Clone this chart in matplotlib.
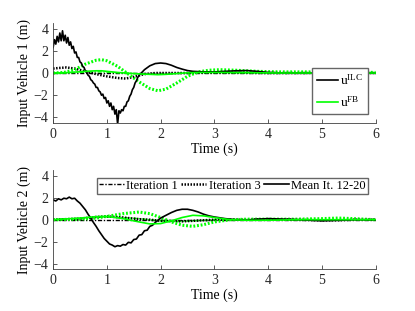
import numpy as np
import matplotlib
matplotlib.use("Agg")
import matplotlib.pyplot as plt

plt.rcParams["font.family"] = ["Liberation Serif", "DejaVu Serif"]
plt.rcParams["mathtext.fontset"] = "custom"
plt.rcParams["mathtext.rm"] = "Liberation Serif"
plt.rcParams["mathtext.it"] = "Liberation Serif:italic"
plt.rcParams["font.size"] = 10

GREEN = "#00ff00"
DOT = (0, (0.6, 0.6))
DASHDOT = (0, (3, 1.2, 1, 1.2))

# ---------------- vehicle 1 ----------------
# mean ILC input (it. 12-20), noisy first part then smooth tail
v1_ilc_mean_noisy = [2.3, 3.0, 2.6, 3.3, 2.8, 3.6, 2.9, 3.8, 2.9, 3.4, 2.7, 3.2, 2.5,
                     2.8, 2.2, 2.4, 1.8, 1.9, 1.4, 1.4, 1.0, 0.9, 0.6, 0.5, 0.2, 0.1,
                     -0.2, -0.3, -0.6, -0.7, -0.9, -1.0, -1.3, -1.3, -1.6, -1.7, -2.0,
                     -1.9, -2.3, -2.2, -2.7, -2.5, -3.0, -2.7, -3.3, -3.0, -3.7, -3.3,
                     -4.6, -3.4, -3.6, -3.3, -3.4, -3.0, -3.0, -2.6, -2.5, -2.1, -1.9,
                     -1.5, -1.3, -0.9, -0.7, -0.4, -0.2]
t_v1_tail = [1.7, 1.8, 1.9, 2.0, 2.1, 2.2, 2.3, 2.4, 2.5, 2.6, 2.8, 3.0, 3.2, 3.4,
             3.6, 3.8, 4.0, 4.3, 5.0, 6.0]
v1_ilc_mean_tail = [0.3, 0.65, 0.85, 0.9, 0.85, 0.7, 0.5, 0.35, 0.22, 0.15, 0.1, 0.1,
                    0.15, 0.2, 0.22, 0.15, 0.05, 0.0, 0.0, 0.0]

t_v1_it3 = [0, 0.1, 0.25, 0.4, 0.6, 0.8, 1.0, 1.2, 1.35, 1.5, 1.7, 1.9, 2.5, 3.0, 4.0, 6.0]
v1_ilc_it3 = [0.4, 0.45, 0.5, 0.4, 0.15, -0.1, -0.3, -0.45, -0.5, -0.35, -0.1, 0.0,
              0.0, 0.05, 0.0, 0.0]

t_v1_fb = [0, 0.2, 0.4, 0.6, 0.8, 0.9, 1.0, 1.2, 1.4, 1.6, 1.8, 1.95, 2.1, 2.3, 2.5,
           2.7, 2.9, 3.1, 3.4, 3.8, 4.2, 5.0, 5.5, 6.0]
v1_fb_it3 = [0, 0.05, 0.3, 0.8, 1.15, 1.2, 1.1, 0.6, -0.1, -0.8, -1.4, -1.6, -1.45,
             -0.9, -0.3, 0.1, 0.25, 0.3, 0.25, 0.15, 0.1, 0.1, 0.1, 0.05]
v1_fb_mean = [0, 0.02, 0.08, 0.15, 0.2, 0.2, 0.15, 0.05, -0.02, -0.08, -0.12, -0.15,
              -0.12, -0.05, 0.02, 0.05, 0.05, 0.05, 0.03, 0.02, 0.0, 0.0, 0.0, 0.0]
v1_fb_it1 = [0, 0.01, 0.04, 0.08, 0.1, 0.1, 0.08, 0.02, -0.03, -0.06, -0.08, -0.08,
             -0.06, -0.03, 0.0, 0.02, 0.03, 0.03, 0.02, 0.01, 0.0, 0.0, 0.0, 0.0]

# ---------------- vehicle 2 ----------------
t_v2_mean = [0, 0.05, 0.1, 0.15, 0.2, 0.25, 0.3, 0.35, 0.4, 0.45, 0.5, 0.55, 0.6, 0.65,
             0.7, 0.75, 0.8, 0.85, 0.9, 0.95, 1.0, 1.05, 1.1, 1.15, 1.2, 1.25, 1.3,
             1.35, 1.4, 1.45, 1.5, 1.55, 1.6, 1.65, 1.7, 1.75, 1.8, 1.85, 1.9, 1.95,
             2.0, 2.1, 2.2, 2.3, 2.4, 2.5, 2.6, 2.7, 2.8, 2.9, 3.0, 3.2, 3.4, 3.6, 3.8,
             4.0, 4.3, 4.6, 5.0, 5.3, 5.6, 6.0]
v2_ilc_mean = [1.8, 1.7, 1.9, 1.8, 1.95, 1.9, 2.05, 1.9, 1.95, 1.7, 1.5, 1.2, 0.9, 0.5,
               0.15, -0.25, -0.6, -1.0, -1.35, -1.7, -1.95, -2.2, -2.3, -2.45, -2.35,
               -2.4, -2.25, -2.3, -2.05, -2.1, -1.8, -1.75, -1.4, -1.35, -1.0, -0.95,
               -0.6, -0.5, -0.25, -0.05, 0.15, 0.4, 0.65, 0.85, 0.95, 0.95, 0.85, 0.7,
               0.5, 0.35, 0.25, 0.1, 0.0, -0.05, 0.05, 0.1, 0.05, 0.0, -0.1, -0.05, 0.0,
               0.0]

t_v2 = [0, 0.5, 0.8, 1.0, 1.3, 1.6, 1.8, 2.0, 2.2, 2.4, 2.6, 2.8, 3.0, 3.3, 3.6, 4.0,
        4.5, 5.0, 5.3, 5.6, 6.0]
v2_fb_it3 = [0, 0.05, 0.15, 0.3, 0.55, 0.7, 0.55, 0.2, -0.2, -0.5, -0.6, -0.45, -0.2,
             0.0, 0.05, 0.05, 0.05, 0.1, 0.15, 0.1, 0.0]
v2_fb_mean = [0, 0.15, 0.28, 0.3, 0.1, -0.2, -0.38, -0.35, -0.1, 0.2, 0.4, 0.35, 0.2,
              0.0, -0.05, -0.05, 0.0, 0.0, 0.0, 0.0, 0.0]
v2_fb_it1 = [0, 0.1, 0.2, 0.25, 0.2, 0.1, 0.0, -0.1, -0.15, -0.15, -0.1, -0.05, 0.0,
             0.0, 0.0, 0.0, 0.0, 0.0, 0.0, 0.0, 0.0]
v2_ilc_it3 = [0, 0.1, 0.25, 0.3, 0.2, 0.05, 0.0, -0.1, -0.12, -0.15, -0.1, -0.05, 0.0,
              0.0, 0.0, 0.05, 0.0, -0.05, -0.05, 0.0, 0.0]

t_full = [0, 6]
ilc_it1 = [0, 0]

t_v1_noisy = np.linspace(0, 1.6, len(v1_ilc_mean_noisy))
t_v1_mean = np.concatenate([t_v1_noisy, t_v1_tail])
v1_ilc_mean = np.concatenate([v1_ilc_mean_noisy, v1_ilc_mean_tail])

fig = plt.figure(figsize=(4.15, 3.11), dpi=100)
ax1 = fig.add_axes([0.128, 0.6045, 0.777, 0.3215])
ax2 = fig.add_axes([0.128, 0.134, 0.777, 0.319])

# vehicle 1
ax1.plot(t_full, ilc_it1, color="k", ls=DASHDOT, lw=1.0)
ax1.plot(t_v1_fb, v1_fb_it1, color=GREEN, ls=DASHDOT, lw=1.0)
ax1.plot(t_v1_it3, v1_ilc_it3, color="k", ls=DOT, lw=1.8)
ax1.plot(t_v1_fb, v1_fb_it3, color=GREEN, ls=DOT, lw=2.2)
l_ilc, = ax1.plot(t_v1_mean, v1_ilc_mean, "k-", lw=1.2)
l_fb, = ax1.plot(t_v1_fb, v1_fb_mean, "-", color=GREEN, lw=1.2)
ax1.legend([l_ilc, l_fb], [r"u$^{\mathrm{ILC}}$", r"u$^{\mathrm{FB}}$"],
           loc="lower right", bbox_to_anchor=(0.976, 0.09), fancybox=False,
           edgecolor="0.4", framealpha=1, handlelength=1.6, borderpad=0.35,
           labelspacing=0.55, handletextpad=0.15, borderaxespad=0, fontsize=9.5)
ax1.set_ylabel("Input Vehicle 1 (m)", labelpad=2)

# vehicle 2
h1, = ax2.plot(t_full, ilc_it1, color="k", ls=DASHDOT, lw=1.0)
ax2.plot(t_v2, v2_fb_it1, color=GREEN, ls=DASHDOT, lw=1.0)
h3, = ax2.plot(t_v2, v2_ilc_it3, color="k", ls=DOT, lw=1.8)
ax2.plot(t_v2, v2_fb_it3, color=GREEN, ls=DOT, lw=2.2)
hm, = ax2.plot(t_v2_mean, v2_ilc_mean, "k-", lw=1.2)
ax2.plot(t_v2, v2_fb_mean, "-", color=GREEN, lw=1.2)
ax2.legend([h1, h3, hm], ["Iteration 1", "Iteration 3", "Mean It. 12-20"],
           loc="upper right", bbox_to_anchor=(0.975, 0.922), ncol=3,
           fancybox=False, edgecolor="0.4", framealpha=1, handlelength=2.0,
           borderpad=0.15, columnspacing=0.25, handletextpad=0.2,
           borderaxespad=0, fontsize=9)
ax2.set_ylabel("Input Vehicle 2 (m)", labelpad=2)

for ax in (ax1, ax2):
    ax.set_xlim(0, 6)
    ax.set_ylim(-4.5, 4.5)
    ax.set_xticks([0, 1, 2, 3, 4, 5, 6])
    ax.set_yticks([-4, -2, 0, 2, 4])
    ax.set_xlabel("Time (s)", labelpad=1)
    ax.spines["top"].set_visible(False)
    ax.spines["right"].set_visible(False)
    for s in ("left", "bottom"):
        ax.spines[s].set_color("0.25")
        ax.spines[s].set_linewidth(0.6)
    ax.tick_params(direction="in", length=3, width=0.6, color="0.25",
                   labelcolor="0.15")

fig.savefig("out.png", dpi=100)
